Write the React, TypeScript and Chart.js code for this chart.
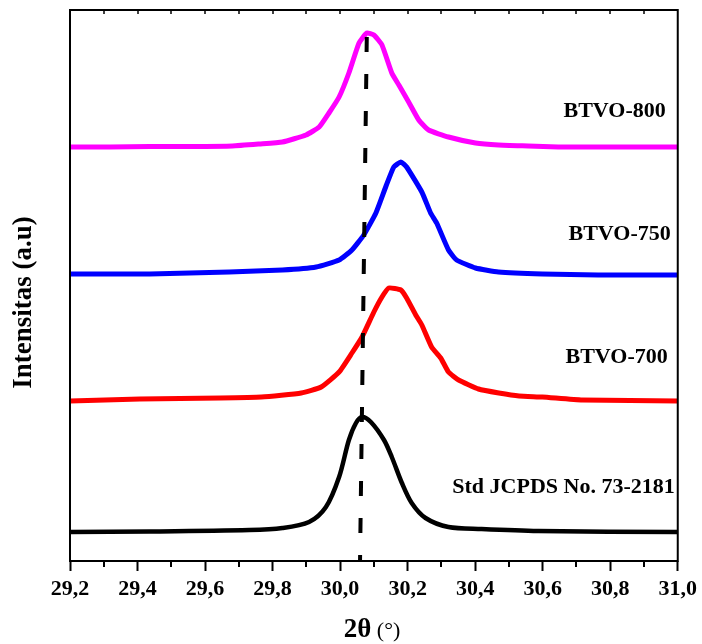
import React, { useEffect, useRef } from "react";
import { Chart, registerables } from "chart.js";

Chart.register(...registerables);

// 2θ (°) positions and intensities (a.u.)
const std2Theta = [29.2, 29.436, 29.731, 29.829, 29.908, 29.958, 29.997, 30.026, 30.047, 30.065, 30.091, 30.13, 30.153, 30.183, 30.212, 30.253, 30.321, 30.419, 30.587, 31.0];
const stdIntensity = [29, 29.5, 31, 33, 39, 54, 84, 121, 138, 144, 139, 121, 104, 78, 58, 43, 34, 32, 30, 29];

const btvo700_2Theta = [29.2, 29.407, 29.646, 29.767, 29.885, 29.944, 29.997, 30.035, 30.065, 30.1, 30.124, 30.144, 30.18, 30.197, 30.224, 30.242, 30.271, 30.298, 30.321, 30.351, 30.41, 30.47, 30.53, 30.599, 30.717, 31.0];
const btvo700Intensity = [160, 162, 163, 164, 168, 174, 189, 208, 224, 249, 264, 273, 271, 263, 246, 236, 214, 203, 189, 181, 172, 168, 165, 164, 161, 160];

const btvo750_2Theta = [29.2, 29.436, 29.672, 29.829, 29.929, 29.997, 30.035, 30.07, 30.106, 30.135, 30.159, 30.18, 30.197, 30.242, 30.268, 30.286, 30.321, 30.345, 30.401, 30.469, 30.599, 30.764, 31.0];
const btvo750Intensity = [287, 287, 289, 291, 294, 301, 311, 326, 348, 374, 394, 399, 394, 369, 348, 338, 311, 301, 293, 289, 287, 286, 286];

const btvo800_2Theta = [29.2, 29.318, 29.436, 29.554, 29.681, 29.761, 29.829, 29.899, 29.938, 29.967, 29.997, 30.026, 30.056, 30.079, 30.1, 30.124, 30.153, 30.174, 30.203, 30.233, 30.262, 30.321, 30.401, 30.469, 30.557, 30.646, 30.764, 30.882, 31.0];
const btvo800Intensity = [414, 414, 414.5, 414.5, 415, 417, 419, 426, 434, 448, 464, 488, 518, 528, 526, 516, 488, 476, 459, 441, 431, 424, 418, 416, 415, 414, 414, 414, 414];

// reference line (dashed)
const ref2Theta = [30.079, 30.059];
const refIntensity = [524, 0];

const seriesLabels = ["BTVO-800", "BTVO-750", "BTVO-700", "Std JCPDS No. 73-2181"];
const seriesColors = ["#ff00ff", "#0000ff", "#ff0000", "#000000"];
const labelIntensity = [450, 327, 204, 74];

const xMin = 29.2;
const xMax = 31.0;
const yMin = 0;
const yMax = 551;

const pts = (xs: number[], ys: number[]) => xs.map((x, i) => ({ x, y: ys[i] }));

const SERIF = "'Liberation Serif', 'Times New Roman', serif";

const decorPlugin = {
  id: "decor",
  afterDraw(chart: any) {
    const { ctx, chartArea } = chart;
    const xs = chart.scales.x;
    const ys = chart.scales.y;
    const { left, right, top, bottom } = chartArea;
    ctx.save();
    ctx.strokeStyle = "#000";
    ctx.lineWidth = 2;
    ctx.beginPath();
    ctx.rect(left, top, right - left, bottom - top);
    ctx.stroke();
    // minor ticks
    for (let k = 1; k < 18; k++) {
      const v = xMin + k * 0.1;
      const px = Math.round(xs.getPixelForValue(v));
      ctx.lineWidth = 1.5;
      ctx.beginPath();
      ctx.moveTo(px, top);
      ctx.lineTo(px, top + 4);
      ctx.stroke();
      if (k % 2 === 1) {
        ctx.lineWidth = 2;
        ctx.beginPath();
        ctx.moveTo(px, bottom);
        ctx.lineTo(px, bottom + 6);
        ctx.stroke();
      }
    }
    // series labels
    ctx.fillStyle = "#000";
    ctx.font = `bold 22px ${SERIF}`;
    ctx.textAlign = "right";
    ctx.textBaseline = "middle";
    const rightOffsets = [12, 7, 10, 3];
    seriesLabels.forEach((t, i) => {
      ctx.fillText(t, right - rightOffsets[i], ys.getPixelForValue(labelIntensity[i]));
    });
    // y title
    ctx.save();
    ctx.translate(24, (top + bottom) / 2 + 17);
    ctx.rotate(-Math.PI / 2);
    ctx.textAlign = "center";
    ctx.textBaseline = "middle";
    ctx.font = `bold 27px ${SERIF}`;
    ctx.fillText("Intensitas (a.u)", 0, 0);
    ctx.restore();
    // x title
    ctx.textBaseline = "middle";
    ctx.textAlign = "left";
    ctx.font = `bold 27px ${SERIF}`;
    const a = "2θ";
    const wA = ctx.measureText(a).width;
    ctx.font = `22px ${SERIF}`;
    const b = " (°)";
    const wB = ctx.measureText(b).width;
    const cx = 372;
    const sx = cx - (wA + wB) / 2;
    ctx.font = `bold 27px ${SERIF}`;
    ctx.fillText(a, sx, 630);
    ctx.font = `22px ${SERIF}`;
    ctx.fillText(b, sx + wA, 631);
    ctx.restore();
  },
};

export default function App() {
  const ref = useRef<HTMLCanvasElement | null>(null);
  useEffect(() => {
    if (!ref.current) return;
    const mk = (data: any[], color: string, width: number, tension: number) => ({
      data,
      borderColor: color,
      backgroundColor: color,
      borderWidth: width,
      pointRadius: 0,
      tension,
      fill: false,
      order: 1,
    });
    const chart = new Chart(ref.current, {
      type: "line",
      data: {
        datasets: [
          {
            data: pts(ref2Theta, refIntensity),
            borderColor: "#000",
            borderWidth: 4,
            borderDash: [15, 22],
            pointRadius: 0,
            fill: false,
            order: 0,
          },
          mk(pts(btvo800_2Theta, btvo800Intensity), seriesColors[0], 5, 0.15),
          mk(pts(btvo750_2Theta, btvo750Intensity), seriesColors[1], 5, 0.15),
          mk(pts(btvo700_2Theta, btvo700Intensity), seriesColors[2], 5, 0.15),
          mk(pts(std2Theta, stdIntensity), seriesColors[3], 4.5, 0.3),
        ] as any,
      },
      options: {
        animation: false,
        responsive: false,
        devicePixelRatio: 1,
        layout: { padding: { left: 0, right: 22, top: 10, bottom: 0 } },
        plugins: { legend: { display: false }, tooltip: { enabled: false } },
        scales: {
          x: {
            type: "linear",
            min: xMin,
            max: xMax,
            afterFit: (s: any) => {
              s.height = 83;
            },
            ticks: {
              stepSize: 0.2,
              autoSkip: false,
              maxRotation: 0,
              padding: 5,
              color: "#000",
              font: { family: SERIF, weight: "bold", size: 22 },
              callback: (v: any) => Number(v).toFixed(1).replace(".", ","),
            },
            grid: {
              display: true,
              drawOnChartArea: false,
              drawTicks: true,
              tickLength: 10,
              tickWidth: 2,
              tickColor: "#000",
            },
            border: { display: false },
          },
          y: {
            type: "linear",
            min: yMin,
            max: yMax,
            afterFit: (s: any) => {
              s.width = 70;
            },
            ticks: { display: false },
            grid: { display: false },
            border: { display: false },
          },
        },
      } as any,
      plugins: [decorPlugin],
    });
    return () => chart.destroy();
  }, []);
  return (
    <div style={{ position: "absolute", left: 0, top: 0, width: 702, height: 644, background: "#fff" }}>
      <canvas ref={ref} width={702} height={644} style={{ width: 702, height: 644, display: "block" }} />
    </div>
  );
}
